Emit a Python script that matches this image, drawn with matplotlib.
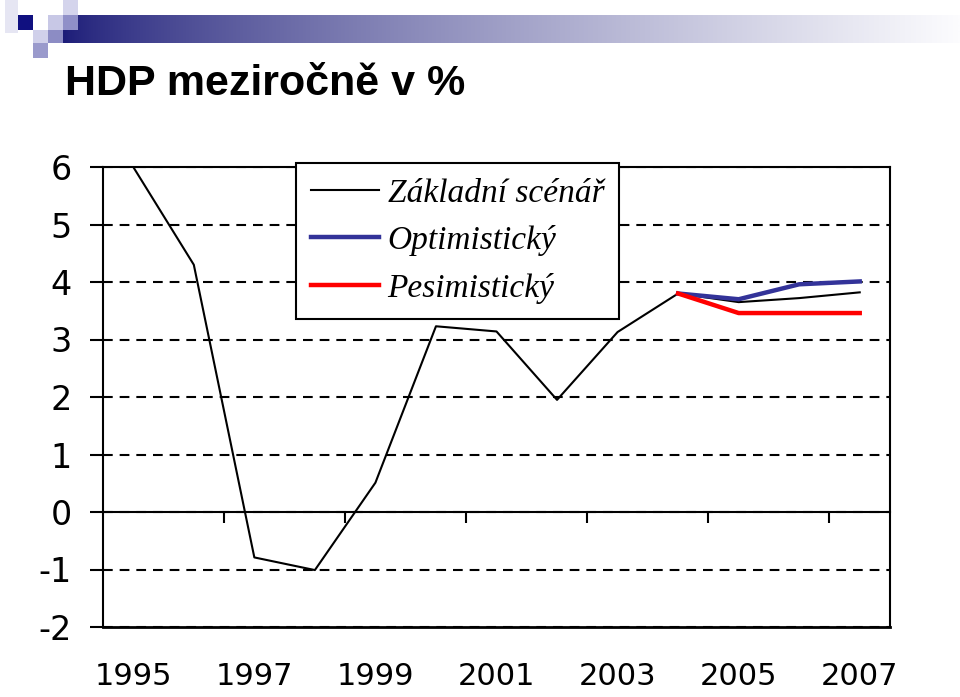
import numpy as np
import matplotlib
matplotlib.use("Agg")
import matplotlib.pyplot as plt
from matplotlib.patches import Rectangle
from matplotlib.transforms import blended_transform_factory

# Data
years = [1995, 1996, 1997, 1998, 1999, 2000, 2001, 2002, 2003, 2004, 2005, 2006, 2007]
zakladni = [6.0, 4.3, -0.79, -1.01, 0.51, 3.23, 3.14, 1.95, 3.13, 3.80, 3.65, 3.72, 3.82]
scen_years = [2004, 2005, 2006, 2007]
optimisticky = [3.80, 3.70, 3.96, 4.01]
pesimisticky = [3.80, 3.46, 3.46, 3.46]
label_years = [1995, 1997, 1999, 2001, 2003, 2005, 2007]
y_ticks = [-2, -1, 0, 1, 2, 3, 4, 5, 6]
legend_labels = ["Základní scénář", "Optimistický", "Pesimistický"]
title = "HDP meziročně v %"

W, H = 960, 697
plt.rcParams["lines.scale_dashes"] = False
fig = plt.figure(figsize=(W / 100, H / 100), dpi=100)

# header decoration (squares + gradient bar)
deco = fig.add_axes([0, 0, 1, 1], zorder=0)
deco.set_xlim(0, W)
deco.set_ylim(H, 0)
deco.axis("off")
grad = np.linspace(0, 1, 256) ** 0.75
c0 = np.array([0x1c, 0x1c, 0x78]) / 255
c1 = np.array([0xfc, 0xfc, 0xfe]) / 255
img = (c0[None, :] * (1 - grad[:, None]) + c1[None, :] * grad[:, None])[None, :, :]
deco.imshow(img, extent=(63, 960, 43, 15), aspect="auto", interpolation="bilinear", zorder=1)
squares = [
    (5, 0, 13, 33, "#e6e6f3"),
    (18, 15, 15, 15, "#101080"),
    (48, 15, 15, 15, "#c8c8e6"),
    (63, 0, 15, 15, "#d4d4ec"),
    (63, 15, 15, 15, "#9090c8"),
    (33, 30, 15, 13, "#d0d0ea"),
    (48, 30, 15, 13, "#8c8cc4"),
    (33, 43, 15, 15, "#9a9acc"),
]
for x, y, w, h, c in squares:
    deco.add_patch(Rectangle((x, y), w, h, color=c, lw=0, zorder=2))

fig.text(65 / W, 1 - 95 / H, title, fontsize=31, fontweight="bold",
         family="Liberation Sans", ha="left", va="baseline")

# chart
ax = fig.add_axes([103 / W, 1 - 627 / H, (890 - 103) / W, (627 - 167) / H], zorder=1)
xs = np.arange(len(years))
ax.plot(xs, zakladni, color="black", lw=1.5, label=legend_labels[0], zorder=3)
sx = [years.index(y) for y in scen_years]
ax.plot(sx, optimisticky, color="#333399", lw=3.2, label=legend_labels[1], zorder=4)
ax.plot(sx, pesimisticky, color="#ff0000", lw=3.2, label=legend_labels[2], zorder=5)

ax.set_xlim(-0.5, len(years) - 0.5)
ax.set_ylim(-2, 6)

for s in ["top", "right", "left", "bottom"]:
    ax.spines[s].set_linewidth(1.5)
    ax.spines[s].set_color("black")
ax.spines["bottom"].set_position(("data", 0))
ax.axhline(-2, color="black", lw=2, clip_on=False, zorder=6)

ax.set_xticks(np.arange(1.5, len(years) - 1, 2))
ax.set_xticklabels([])
ax.tick_params(axis="x", direction="out", length=8, width=1.5)

tfont = dict(family="DejaVu Sans", fontsize=24)
ax.set_yticks(y_ticks)
ax.set_yticklabels([str(v) for v in y_ticks], **tfont)
ax.tick_params(axis="y", direction="out", length=9.5, width=1.5, pad=13)
ax.yaxis.grid(True, color="black", lw=1.5, linestyle=(0, (7, 5)))

tr = blended_transform_factory(ax.transData, ax.transAxes)
for yr in label_years:
    ax.text(years.index(yr), -0.107, str(yr), transform=tr, ha="center", va="center",
            family="DejaVu Sans", fontsize=22)

leg = ax.legend(loc="upper left", bbox_to_anchor=(296 / W, 1 - 163 / H),
                bbox_transform=fig.transFigure, borderaxespad=0,
                prop=dict(family="Liberation Serif", style="italic", size=24),
                frameon=True, fancybox=False, edgecolor="black", framealpha=1,
                handlelength=2.05, handletextpad=0.25, labelspacing=0.5, borderpad=0.45)
leg.get_frame().set_linewidth(1.5)
leg.set_zorder(10)

fig.savefig("out.png", dpi=100)
